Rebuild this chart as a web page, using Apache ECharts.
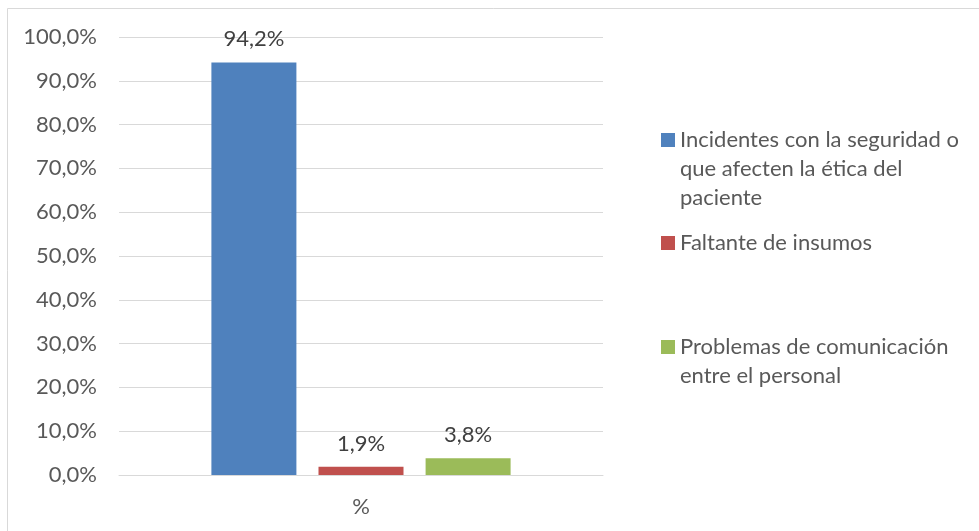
<!DOCTYPE html>
<html>
<head>
<meta charset="utf-8">
<script src="https://cdn.jsdelivr.net/npm/echarts@6/dist/echarts.min.js"></script>
<style>
  html, body { margin: 0; padding: 0; background: #ffffff; }
  #chart { width: 979px; height: 531px; }
</style>
</head>
<body>
<div id="chart"></div>
<script>
// Category on the x axis
const categories = ['%'];

// Series names (legend text, with manual line breaks)
const seriesNames = [
  'Incidentes con la seguridad o\nque afecten la ética del\npaciente',
  'Faltante de insumos',
  'Problemas de comunicación\nentre el personal'
];

// Percent values per series
const incidentesValues = [94.2];
const faltanteValues = [1.9];
const comunicacionValues = [3.8];

const seriesColors = ['#4F81BD', '#C0504D', '#9BBB59'];

const FONT = 'Lato';
const FS = 22;
const LH = 29;
const TEXT = '#595959';
const SQ = 14; // legend square size

const fmtPct = v => v.toFixed(1).replace('.', ',') + '%';

const valueSets = [incidentesValues, faltanteValues, comunicacionValues];

// Legend: one block per entry. The icon box is stretched to the height that
// centres the text block so that the square sits next to the first line.
const legendFirstLineY = [140, 243, 347];
const legends = seriesNames.map((name, i) => {
  const n = name.split('\n').length;
  const boxH = SQ + (n - 1) * LH;
  const icon = n > 1
    ? 'path://M0,0L' + SQ + ',0L' + SQ + ',' + SQ + 'L0,' + SQ + 'Z M0,' + boxH + 'L' + SQ + ',' + boxH
    : 'rect';
  return {
    left: 661,
    top: legendFirstLineY[i] - LH / 2,
    padding: 0,
    orient: 'vertical',
    selectedMode: false,
    itemWidth: SQ,
    itemHeight: boxH,
    itemGap: 0,
    icon: icon,
    data: [name],
    textStyle: { fontFamily: FONT, fontSize: FS, color: TEXT, lineHeight: LH }
  };
});

const chart = echarts.init(document.getElementById('chart'), null, { renderer: 'canvas' });

chart.setOption({
  backgroundColor: '#ffffff',
  animation: false,
  graphic: [{
    type: 'rect',
    shape: { x: 7.5, y: 8.5, width: 1000, height: 600 },
    style: { fill: 'none', stroke: '#d9d9d9', lineWidth: 1 },
    silent: true
  }],
  legend: legends,
  grid: { left: 119, right: 376, top: 37, bottom: 56 },
  xAxis: {
    type: 'category',
    data: categories,
    axisLine: { lineStyle: { color: '#d9d9d9', width: 1 } },
    axisTick: { show: false },
    axisLabel: { color: TEXT, fontFamily: FONT, fontSize: FS, margin: 21 }
  },
  yAxis: {
    type: 'value',
    min: 0,
    max: 100,
    interval: 10,
    axisLine: { show: false },
    axisTick: { show: false },
    splitLine: { lineStyle: { color: '#d9d9d9', width: 1 } },
    axisLabel: { color: TEXT, fontFamily: FONT, fontSize: FS, margin: 22, formatter: v => fmtPct(v) }
  },
  series: seriesNames.map((name, i) => ({
    name: name,
    type: 'bar',
    data: valueSets[i],
    barWidth: 85,
    barGap: '26%',
    itemStyle: { color: seriesColors[i] },
    label: {
      show: true,
      position: 'top',
      distance: 12,
      color: '#404040',
      fontFamily: FONT,
      fontSize: FS,
      formatter: p => fmtPct(p.value)
    }
  }))
});
</script>
</body>
</html>
